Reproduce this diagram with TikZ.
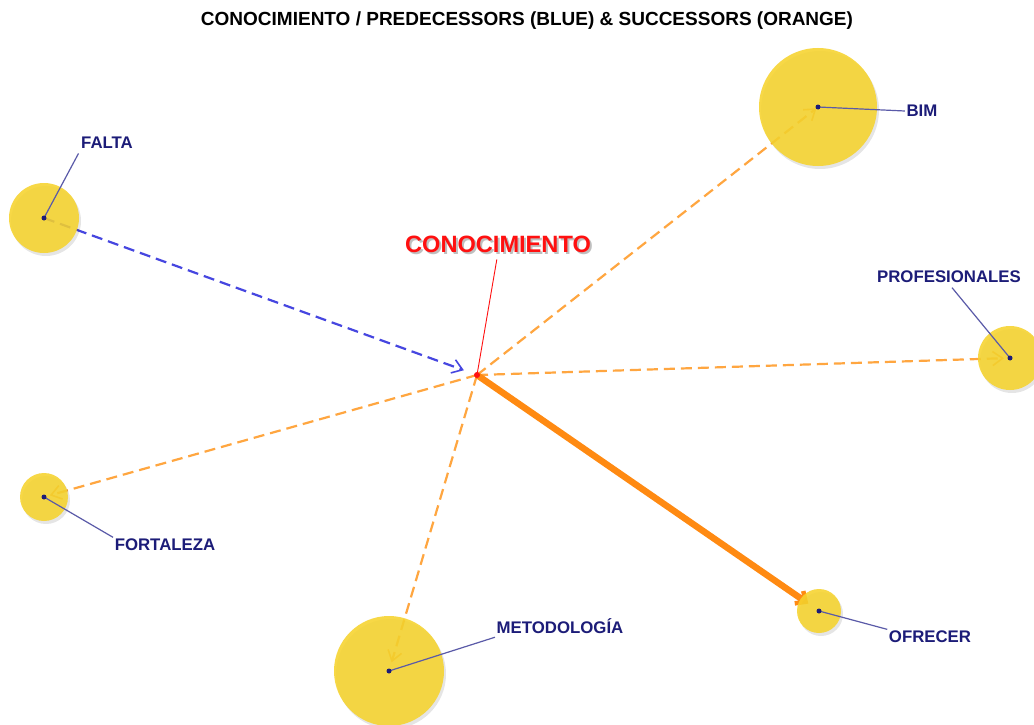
\documentclass[tikz,border=0pt]{standalone}
\usepackage{fontspec}
\setmainfont{Liberation Sans}
\usetikzlibrary{arrows.meta}
\definecolor{nodeyellow}{HTML}{F6D32D}
\definecolor{labnavy}{HTML}{1C1C78}
\definecolor{leadline}{HTML}{5A5AA8}
\definecolor{succorange}{HTML}{FFA640}
\definecolor{thickorange}{HTML}{FF8A12}
\definecolor{predblue}{HTML}{4646E0}
\definecolor{conored}{HTML}{FF1010}
\tikzset{
  x=1pt, y=-1pt,
  bubble/.style={circle, fill=nodeyellow, fill opacity=0.88, draw=none, inner sep=0pt},
  bubshadow/.style={circle, fill=black, fill opacity=0.10, draw=none, inner sep=0pt},
  dotnode/.style={circle, fill=labnavy, inner sep=0pt, minimum size=5pt},
  labnode/.style={font=\fontsize{16.8}{19}\selectfont\bfseries, text=labnavy, inner sep=1.5pt},
  leader/.style={draw=leadline, line width=1.2pt},
  succ/.style={draw=succorange, line width=2.2pt, dash pattern=on 11pt off 6pt, -{Straight Barb[length=10pt,width=14pt,line width=1.6pt]}},
  pred/.style={draw=predblue, line width=2.2pt, dash pattern=on 11pt off 6pt, -{Straight Barb[length=10pt,width=14pt,line width=1.6pt]}},
  strong/.style={draw=thickorange, line width=6.5pt, -{Straight Barb[length=8pt,width=15pt,line width=4.5pt]}},
}
\begin{document}
\begin{tikzpicture}
\useasboundingbox (0,0) rectangle (1034,725);
\fill[white] (0,0) rectangle (1034,725);
% title
\node[font=\fontsize{19}{22}\selectfont\bfseries, inner sep=0pt] (title) at (527,21)
  {\scalebox{1.0}[1]{CONOCIMIENTO / PREDECESSORS (BLUE) \& SUCCESSORS (ORANGE)}};
% centres
\coordinate (cono) at (477,375);
\coordinate (falta) at (44,218);
\coordinate (bim) at (818,107);
\coordinate (prof) at (1010,358);
\coordinate (fort) at (44,497);
\coordinate (metod) at (389,671);
\coordinate (ofre) at (819,611);
% edges
\draw[pred, shorten >=14pt] (falta) -- (cono);
\draw[succ, shorten >=2pt] (cono) -- (bim);
\draw[succ, shorten >=6pt] (cono) -- (prof);
\draw[succ, shorten >=6pt] (cono) -- (fort);
\draw[succ, shorten >=9pt] (cono) -- (metod);
\draw[strong, shorten >=13pt] (cono) -- (ofre);
% bubble shadows
\node[bubshadow, minimum size=118pt] at ([shift={(2,3)}]bim) {};
\node[bubshadow, minimum size=70pt] at ([shift={(2,3)}]falta) {};
\node[bubshadow, minimum size=64pt] at ([shift={(2,3)}]prof) {};
\node[bubshadow, minimum size=48pt] at ([shift={(2,3)}]fort) {};
\node[bubshadow, minimum size=110pt] at ([shift={(2,3)}]metod) {};
\node[bubshadow, minimum size=44pt] at ([shift={(2,3)}]ofre) {};
% bubbles
\node[bubble, minimum size=118pt] (bimb) at (bim) {};
\node[bubble, minimum size=70pt] (faltab) at (falta) {};
\node[bubble, minimum size=64pt] (profb) at (prof) {};
\node[bubble, minimum size=48pt] (fortb) at (fort) {};
\node[bubble, minimum size=110pt] (metodb) at (metod) {};
\node[bubble, minimum size=44pt] (ofreb) at (ofre) {};
% labels
\node[labnode] (faltal) at (107,143) {FALTA};
\node[labnode] (biml) at (922,111) {BIM};
\node[labnode] (profl) at (949,277) {PROFESIONALES};
\node[labnode] (fortl) at (165,545) {FORTALEZA};
\node[labnode] (metodl) at (560,626) {METODOLOGÍA};
\node[labnode] (ofrel) at (930,637) {OFRECER};
\node[font=\fontsize{23.6}{26}\selectfont\bfseries, text=black, opacity=0.25, inner sep=0pt] at (500,246) {CONOCIMIENTO};
\node[font=\fontsize{23.6}{26}\selectfont\bfseries, text=conored, inner sep=0pt] (conol) at (498,244) {CONOCIMIENTO};
% leader lines
\draw[leader] (falta) -- ([shift={(-1,3)}]faltal.south west);
\draw[leader] (bim) -- (biml.west);
\draw[leader] (prof) -- ([shift={(3,3)}]profl.south);
\draw[leader] (fort) -- (fortl.north west);
\draw[leader] (metod) -- ([shift={(0,2)}]metodl.south west);
\draw[leader] (ofre) -- (ofrel.north west);
\draw[draw=conored, line width=0.9pt, shorten <=7pt] (conol.south) -- (cono);
% dots
\node[dotnode] (faltad) at (falta) {};
\node[dotnode] (bimd) at (bim) {};
\node[dotnode] (profd) at (prof) {};
\node[dotnode] (fortd) at (fort) {};
\node[dotnode] (metodd) at (metod) {};
\node[dotnode] (ofred) at (ofre) {};
\node[circle, fill=conored, inner sep=0pt, minimum size=6pt] (conod) at (cono) {};
\end{tikzpicture}
\end{document}
